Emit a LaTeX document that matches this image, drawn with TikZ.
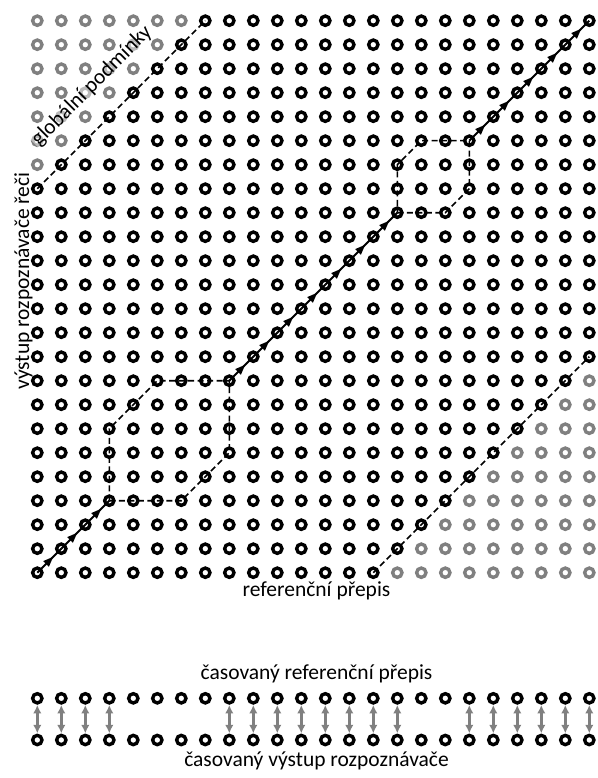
\documentclass[tikz,border=0pt]{standalone}
\usepackage{fontspec}
\setmainfont{Carlito}
\usetikzlibrary{arrows.meta,calc}
\definecolor{dotgray}{RGB}{128,128,128}
\tikzset{
  bdot/.style={circle,draw=black,line width=3.4pt,inner sep=0pt,minimum size=9.3pt},
  gdot/.style={circle,draw=dotgray,line width=3.4pt,inner sep=0pt,minimum size=9.3pt},
  bound/.style={line width=1.6pt,dash pattern=on 6pt off 3.5pt},
  stepline/.style={line width=1.8pt},
  headfill/.style={fill=black},
  link/.style={dotgray,line width=2.5pt,{Latex[length=8.5pt,width=8.5pt]}-{Latex[length=8.5pt,width=8.5pt]},shorten <=0.3pt,shorten >=0.3pt},
  lbl/.style={font=\fontsize{21.5}{25}\selectfont,inner sep=1pt}
}
\begin{document}
\begin{tikzpicture}[x=1pt,y=-1pt]
\useasboundingbox (0,0) rectangle (597,778);
% grid
\foreach \i in {0,...,23}{
  \foreach \j in {0,...,23}{
    \pgfmathtruncatemacro\dd{\j-\i}
    \ifnum\dd>16 \def\cc{gdot}\else\ifnum\dd<-14 \def\cc{gdot}\else\def\cc{bdot}\fi\fi
    \node[\cc] (c-\i-\j) at ({37.3+24*\i},{572.7-24*\j}) {};
  }
}
% global constraints
\draw[bound] (c-0-16.center) -- (c-7-23.center);
\draw[bound] (c-14-0.center) -- (c-23-9.center);
% local boxes
\draw[bound] (c-3-3.center) -- (c-6-3.center) -- (c-8-5.center) -- (c-8-8.center) -- (c-5-8.center) -- (c-3-6.center) -- cycle;
\draw[bound] (c-15-15.center) -- (c-17-15.center) -- (c-18-16.center) -- (c-18-18.center) -- (c-16-18.center) -- (c-15-17.center) -- cycle;
% path with arrowheads
\foreach \k in {0,1,2,8,9,10,11,12,13,14,18,19,20,21,22}{
  \pgfmathtruncatemacro\kn{\k+1}
  \draw[stepline] (c-\k-\k.center) -- (c-\kn-\kn.center);
  \coordinate (tip-\k) at ($(c-\k-\k.center)!0.66!(c-\kn-\kn.center)$);
  \fill[headfill] (tip-\k) -- ($(tip-\k)!10pt!(c-\k-\k.center)!4pt!90:(c-\k-\k.center)$) -- ($(tip-\k)!10pt!(c-\k-\k.center)!4pt!-90:(c-\k-\k.center)$) -- cycle;
}
% labels
\node[lbl,rotate=45,fill=white,fill opacity=0.45,text opacity=1] (glob) at (92,86) {globální podmínky};
\node[lbl,rotate=90,anchor=base] (yax) at (29,281) {výstup rozpoznávače řeči};
\node[lbl,anchor=base] (xax) at (316.5,596) {referenční přepis};
% timed rows
\foreach \i in {0,...,23}{
  \node[bdot] (t-\i) at ({37.3+24*\i},698.3) {};
  \node[bdot] (b-\i) at ({37.3+24*\i},740) {};
}
\foreach \i in {0,1,2,3,8,9,10,11,12,13,14,15,18,19,20,21,22,23}{
  \draw[link] (t-\i.south) -- (b-\i.north);
}
\node[lbl,anchor=base] (tref) at (316.5,679) {časovaný referenční přepis};
\node[lbl,anchor=base] (tout) at (316.5,766) {časovaný výstup rozpoznávače};
\end{tikzpicture}
\end{document}
